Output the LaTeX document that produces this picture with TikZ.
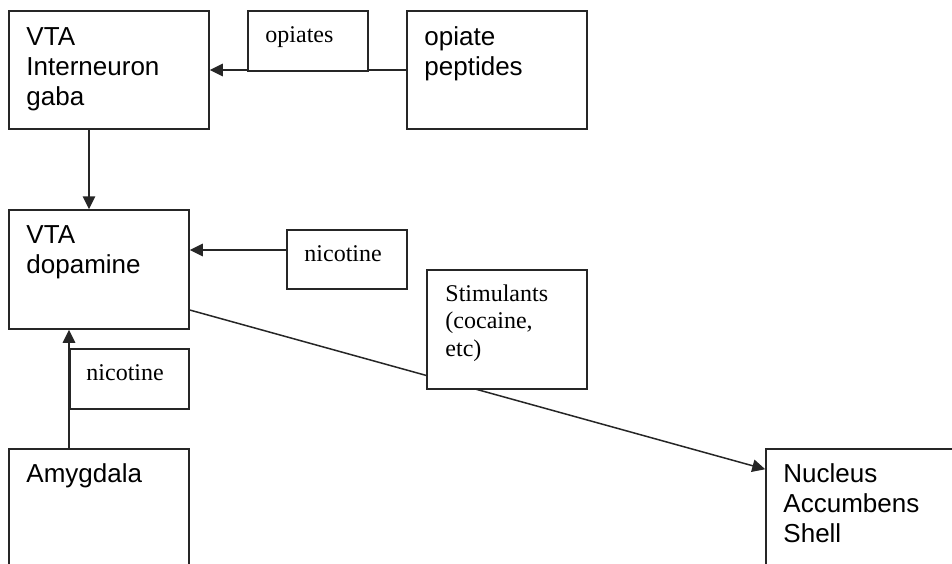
\documentclass[tikz,border=0pt]{standalone}
\usepackage{fontspec}
\setmainfont{Liberation Serif}
\setsansfont{Liberation Sans}
\usetikzlibrary{arrows.meta}

\begin{document}
\begin{tikzpicture}[x=1pt,y=-1pt,
	region/.style={draw=black!85, line width=1.5pt, fill=white, inner sep=0pt},
	drug/.style={draw=black!85, line width=1.5pt, fill=white, inner sep=0pt},
	sanslabel/.style={anchor=base west, inner sep=0pt, text width=170pt, align=left, font=\sffamily\fontsize{26}{30}\selectfont},
	seriflabel/.style={anchor=base west, inner sep=0pt, text width=140pt, align=left, font=\rmfamily\fontsize{24}{27.5}\selectfont},
	link/.style={draw=black!85, line width=1.5pt, -{Triangle[length=13pt,width=12.5pt]}}]
	\clip (0,0) rectangle (952,563);
	\node[region, minimum width=200pt, minimum height=118pt] (gaba) at (109,70) {};
	\node[sanslabel] at ([shift={(18,35)}]gaba.north west) {VTA\\Interneuron\\gaba};
	\node[region, minimum width=180pt, minimum height=118pt] (peptides) at (497,70) {};
	\node[sanslabel] at ([shift={(18,35)}]peptides.north west) {opiate\\peptides};
	\node[region, minimum width=180pt, minimum height=119pt] (dop) at (99,269.5) {};
	\node[sanslabel] at ([shift={(18,34)}]dop.north west) {VTA\\dopamine};
	\node[region, minimum width=180pt, minimum height=142pt] (amyg) at (99,520) {};
	\node[sanslabel] at ([shift={(18,34)}]amyg.north west) {Amygdala};
	\node[region, minimum width=214pt, minimum height=142pt] (nac) at (873,520) {};
	\node[sanslabel] at ([shift={(18,34)}]nac.north west) {Nucleus\\Accumbens\\Shell};
	\draw[link] (peptides.west) -- (gaba.east);
	\draw[link] ([xshift=-20pt]gaba.south) -- ([xshift=-10pt]dop.north);
	\draw[link] ([yshift=-40.5pt]dop.east) -- ([yshift=-21pt]nac.north west);
	\node[drug, minimum width=120pt, minimum height=60pt] (opiates) at (308,41) {};
	\node[seriflabel] at ([shift={(18,32)}]opiates.north west) {opiates};
	\node[drug, minimum width=120pt, minimum height=59pt] (nicA) at (347,259.5) {};
	\node[seriflabel] at ([shift={(18,32)}]nicA.north west) {nicotine};
	\draw[link] ([yshift=9.5pt]nicA.west) -- ([yshift=9.5pt]nicA.west -| dop.east);
	\node[drug, minimum width=160pt, minimum height=119pt] (stim) at (507,329.5) {};
	\node[seriflabel] at ([shift={(19,32)}]stim.north west) {Stimulants\\(cocaine,\\etc)};
	\node[drug, minimum width=119pt, minimum height=60pt] (nicB) at (129.5,379) {};
	\node[seriflabel] at ([shift={(17,32)}]nicB.north west) {nicotine};
	\draw[link] ([xshift=-30pt]amyg.north) -- ([xshift=-30pt]dop.south);
\end{tikzpicture}
\end{document}
